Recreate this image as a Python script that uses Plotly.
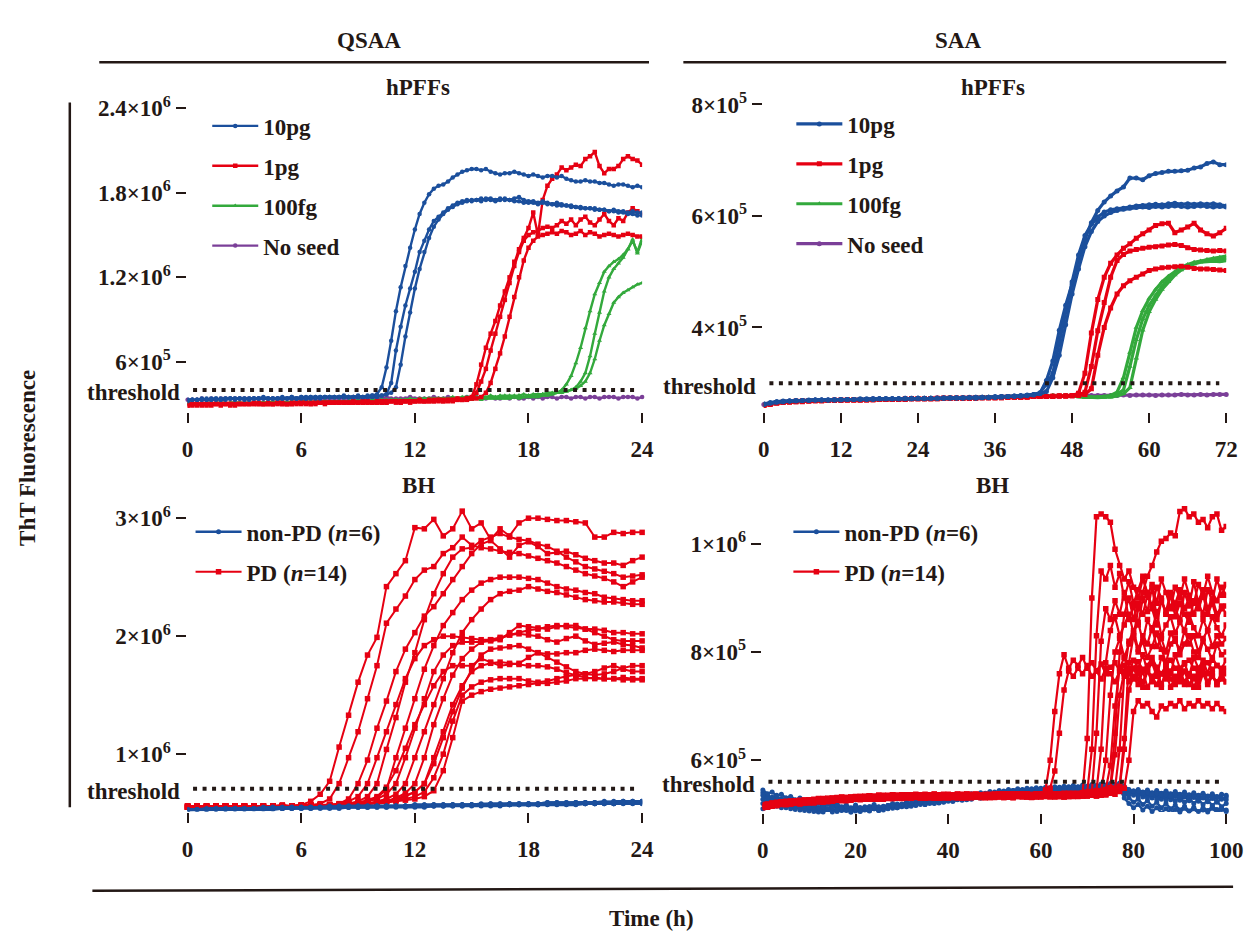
import numpy as np
import plotly.graph_objects as go

W, H = 1255, 933
INK = "#231815"
BLUE = "#1B4F9C"
RED = "#E60012"
GREEN = "#33A93C"
PURPLE = "#7B3F98"
FONT = "Liberation Serif"

# ---------------- DATA ----------------
# Panel A: QSAA, hPFFs seeds, 0-24 h every 0.25 h, values in units of 1e4
QH_STEP = 0.25
q_hpff_10pg = [
    [33,33,33,34,33,34,34,33,34,34,34,34,33,34,34,34,34,34,34,34,34,34,35,34,34,34,35,34,35,35,35,35,35,35,35,35,35,35,35,36,37,
     42,56,75,96,113,128,141,154,165,173,179,183,185,186,188,191,193,195,196,197,197,196,197,195,194,193,194,194,195,194,
     193,192,193,192,191,192,192,191,192,190,189,188,188,189,188,188,187,187,186,185,186,186,185,184,185,184],
    [32,33,33,33,33,33,34,33,33,34,34,34,34,33,34,34,34,34,34,34,34,34,34,34,35,34,34,35,34,35,35,35,35,35,35,35,35,35,35,35,35,36,37,
     45,68,85,100,112,124,138,146,154,160,163,166,169,171,173,174,175,174,175,176,175,175,174,175,176,175,174,174,173,173,
     173,172,173,172,172,171,171,171,170,170,169,169,169,168,168,168,167,168,167,167,166,167,166,166],
    [33,33,33,33,34,33,33,34,34,34,33,34,34,34,34,34,35,34,34,34,35,34,35,34,35,35,35,35,35,35,35,35,35,36,35,35,36,35,36,36,36,36,37,38,
     42,58,78,95,112,126,138,148,156,161,165,168,170,172,173,174,175,175,174,176,176,175,176,175,175,176,177,175,174,174,
     173,174,173,172,173,172,171,171,170,170,169,169,169,168,168,167,167,166,166,165,165,164,164],
]
q_hpff_1pg = [
    [29,30,29,30,30,29,30,30,30,29,30,30,30,30,30,30,30,31,30,30,30,30,31,30,30,31,30,31,31,30,31,31,31,31,31,31,31,31,31,31,
     31,31,31,32,31,31,32,31,32,32,32,32,32,32,32,32,32,33,33,34,
     35,44,58,70,80,89,100,110,120,131,140,148,155,166,150,175,185,190,193,198,196,198,200,199,204,206,209,199,194,197,
     197,199,204,206,204,203,200],
    [30,29,30,30,29,30,30,30,30,30,29,30,30,30,30,31,30,30,30,31,30,30,30,31,31,30,31,30,31,31,31,31,31,31,31,31,31,32,31,31,
     31,32,31,32,32,31,32,32,32,32,32,32,32,33,32,33,33,33,33,33,34,
     38,46,55,68,80,92,104,116,128,138,146,150,152,153,155,156,155,157,160,158,161,157,161,163,159,157,161,165,160,157,
     162,160,166,169,167,165],
    [29,30,30,29,30,30,30,29,30,30,30,30,30,30,31,30,30,30,30,31,31,30,30,31,31,31,30,31,31,31,31,31,31,31,31,32,31,31,32,31,
     32,31,32,32,32,32,32,32,32,33,32,33,33,33,33,33,33,34,33,34,34,34,35,
     38,45,55,66,78,92,106,120,132,141,146,149,150,151,152,151,153,152,150,151,153,150,152,151,149,150,151,150,149,150,
     151,150,149,149],
]
q_hpff_100fg = [
    [30,30,31,30,30,31,30,31,30,31,31,30,31,31,30,31,31,31,31,30,31,31,31,31,31,32,31,31,31,32,31,32,31,32,32,31,32,32,32,32,
     32,32,32,32,33,32,32,33,32,33,33,32,33,33,33,33,33,33,34,33,33,34,33,34,34,34,34,34,34,35,34,35,35,35,35,36,36,37,38,40,
     44,50,59,70,84,96,108,116,124,128,131,133,136,140,147,137,146],
    [31,30,31,30,31,31,30,31,31,30,31,31,31,30,31,31,31,31,31,31,32,31,31,31,32,31,32,31,32,32,32,32,32,31,32,32,32,32,32,33,
     32,33,32,33,33,33,33,33,33,33,33,34,33,34,34,33,34,34,34,34,34,34,35,34,35,35,35,35,35,35,36,35,36,36,36,37,37,37,38,38,
     39,40,42,
     46,52,64,80,95,110,120,126,130,134,140,146,138,148],
    [30,31,30,31,30,30,31,31,30,31,31,31,30,31,31,31,31,31,32,31,31,31,32,31,32,32,31,32,32,32,32,32,32,32,32,33,32,33,32,33,
     33,33,33,33,33,33,33,34,33,34,34,34,34,34,34,34,35,34,35,35,35,35,35,35,36,35,36,36,36,36,36,37,36,37,37,37,38,38,38,39,
     39,40,41,43,
     46,52,62,75,86,94,102,106,109,111,113,115,116],
]
q_hpff_noseed = [
    [33,33,33,34,33,34,33,34,34,34,34,34,34,34,34,34,34,34,34,34,34,34,34,34,34,34,34,34,34,34,34,34,34,34,34,35,34,34,34,34,
     34,34,35,34,34,34,34,35,34,34,34,34,35,34,34,35,34,34,34,35,34,35,34,34,35,34,34,35,34,35,34,34,35,34,35,34,35,35,34,35,
     35,34,35,35,34,35,35,34,35,35,35,34,35,35,35,34,35],
]

# Panel B: SAA, hPFFs seeds, 0-72 h every 1 h, values in units of 1e3
SH_STEP = 1.0
s_hpff_10pg = [
    [262,265,267,268,268,269,269,270,270,270,270,271,271,271,271,271,272,271,272,272,272,272,272,272,273,272,273,273,273,273,
     273,273,274,273,274,274,275,275,276,276,277,278,280,
     282,305,340,395,440,478,522,558,588,610,625,636,645,652,668,668,665,672,676,678,680,680,681,682,686,688,694,697,692,692],
    [263,265,267,267,268,269,269,269,270,270,270,270,271,271,271,272,271,272,272,272,272,272,273,272,273,273,273,273,273,274,
     274,274,274,274,275,275,275,276,276,277,278,279,280,283,
     298,318,372,430,482,530,565,585,598,607,611,613,614,616,618,619,620,621,620,622,623,621,622,621,622,621,622,620,618],
    [262,264,266,267,268,268,269,269,270,270,270,270,270,271,271,271,271,272,272,272,272,272,272,273,273,273,273,273,274,274,
     274,274,274,275,275,275,276,276,276,277,277,278,279,281,285,
     310,350,405,460,505,545,572,590,600,606,610,612,614,615,616,615,617,616,617,618,617,616,617,618,617,616,617,616],
]
s_hpff_1pg = [
    [260,263,265,266,267,267,268,268,269,269,269,269,270,270,270,270,270,271,271,271,271,271,271,272,272,272,272,272,273,273,
     273,273,273,273,274,274,274,274,275,275,275,275,276,276,276,276,277,277,278,282,
     318,390,450,490,515,530,542,550,560,568,575,583,586,587,570,575,580,587,575,568,564,570,578],
    [261,263,265,266,267,268,268,268,269,269,269,270,270,270,270,270,271,271,271,271,271,271,272,272,272,272,272,273,273,273,
     273,273,273,274,274,274,274,275,275,275,275,276,276,276,276,277,277,277,278,279,284,
     330,394,445,490,520,531,537,540,542,544,545,546,548,549,547,543,540,539,538,537,538,537],
    [260,262,264,266,266,267,267,268,268,268,269,269,269,270,270,270,270,270,271,271,271,271,271,272,272,272,272,272,273,273,
     273,273,273,273,274,274,274,274,275,275,275,275,276,276,276,276,277,277,277,278,280,290,
     350,400,435,460,475,484,490,496,502,505,507,508,509,510,508,506,505,505,504,503,502],
]
s_hpff_100fg = [
    [261,263,265,266,267,268,268,268,269,269,269,270,270,270,270,270,271,271,271,271,271,272,272,272,272,272,273,273,273,273,
     273,274,274,274,274,275,275,275,275,276,276,276,277,277,277,278,278,278,277,276,275,275,275,276,278,284,
     310,355,400,430,452,468,482,492,500,508,513,517,519,520,521,522,524],
    [262,264,265,266,267,267,268,268,269,269,269,270,270,270,270,271,271,271,271,271,272,272,272,272,272,273,273,273,273,273,
     274,274,274,274,275,275,275,275,276,276,276,277,277,277,278,278,278,278,277,276,275,275,275,275,277,280,288,
     330,378,415,440,458,474,487,497,505,510,514,517,518,519,518,520],
    [261,263,265,266,266,267,268,268,268,269,269,269,270,270,270,270,271,271,271,271,271,272,272,272,272,272,273,273,273,273,
     273,274,274,274,274,275,275,275,276,276,276,276,277,277,277,278,278,278,277,276,275,274,274,275,275,277,281,292,
     345,395,428,450,468,482,494,503,510,515,519,522,524,526,528],
]
s_hpff_noseed = [
    [262,264,266,267,268,268,269,269,270,270,270,270,271,271,271,271,271,272,272,272,272,272,273,273,273,273,273,274,274,274,
     274,274,275,275,275,275,275,276,276,276,276,276,277,277,277,277,277,278,278,278,278,278,278,278,278,278,279,278,279,279,
     279,278,279,279,279,280,279,279,280,279,280,280,280],
]

# Panel C: QSAA, brain homogenates, 0-24 h every 0.5 h, values in units of 1e4
QB_STEP = 0.5
q_bh_nonpd = [
    [52,53,53,53,53,54,53,54,54,54,54,54,55,54,55,55,55,55,55,55,56,55,56,56,56,56,56,56,57,56,57,57,57,57,57,57,58,57,58,58,58,58,58,58,59,58,59,59,59],
    [53,53,54,54,54,54,54,54,55,55,55,55,55,55,55,56,55,56,56,56,56,56,56,56,57,57,57,57,57,57,57,58,58,58,58,58,58,58,59,59,59,59,59,59,60,59,60,60,60],
    [52,52,52,53,53,53,53,53,53,53,54,54,54,54,54,54,54,55,55,55,55,55,55,55,55,55,56,56,56,56,56,56,56,56,57,57,57,57,57,57,57,57,58,58,58,58,58,58,58],
    [53,53,53,53,54,54,54,54,54,54,54,55,55,55,55,55,55,55,56,56,56,56,56,56,56,56,57,57,57,57,57,57,57,57,58,58,58,58,58,58,58,59,59,59,59,59,59,59,60],
    [52,53,53,53,53,53,54,54,54,54,54,54,54,55,55,55,55,55,55,55,55,56,56,56,56,56,56,56,56,57,57,57,57,57,57,57,57,57,58,58,58,58,58,58,58,58,59,59,59],
    [53,53,53,54,54,54,54,54,54,55,55,55,55,55,55,55,56,56,56,56,56,56,56,56,57,57,57,57,57,57,57,57,58,58,58,58,58,58,59,59,59,59,59,59,59,60,60,60,60],
]
q_bh_pd = [
    [55,56,55,56,56,55,56,56,55,56,56,56,57,60,66,77,106,133,161,184,199,242,253,264,292,291,299,285,291,306,291,296,282,291,285,296,300,300,299,298,298,297,296,284,284,288,287,288,288],
    [55,55,56,55,56,56,56,55,56,56,57,56,57,57,58,62,75,97,119,147,175,211,223,234,248,256,259,270,275,284,277,275,274,272,271,270,268,266,264,262,259,256,253,251,249,246,242,246,250],
    [55,56,55,55,56,56,55,56,56,56,55,56,56,57,56,57,58,62,75,95,122,145,170,189,203,217,225,236,248,259,270,278,281,274,267,277,280,276,270,271,272,269,266,264,262,262,260,264,267],
    [55,55,56,55,56,55,56,56,55,56,56,55,56,56,56,57,57,58,60,64,75,104,131,161,186,214,236,253,267,274,275,281,284,287,284,282,281,278,276,272,267,263,259,257,255,253,250,251,252],
    [56,55,55,56,56,55,56,55,56,56,56,55,56,57,56,57,57,58,58,60,63,70,97,122,147,172,192,209,220,231,239,245,248,250,250,250,249,248,245,242,240,239,237,236,233,232,231,230,230],
    [55,56,55,56,55,56,56,55,56,56,55,56,56,56,57,56,57,57,58,58,60,62,66,75,97,119,142,164,186,203,214,223,231,236,238,239,242,240,238,237,235,233,231,230,229,229,228,227,227],
    [56,55,56,55,56,56,55,56,56,55,56,56,57,56,57,57,58,60,64,75,97,119,142,164,181,192,197,200,200,199,198,197,197,198,201,203,205,206,208,209,208,207,206,206,205,203,203,202,202],
    [55,56,55,56,56,55,56,56,55,56,56,56,55,56,57,56,57,58,58,60,62,66,75,97,122,147,170,184,192,195,195,195,196,197,203,209,208,207,206,208,209,209,206,203,200,197,196,196,196],
    [56,55,55,56,56,55,56,55,56,56,55,56,56,56,57,56,56,57,58,58,59,60,63,67,75,97,125,147,167,181,189,195,197,199,201,202,201,200,197,195,198,200,196,193,194,195,193,192,190],
    [55,56,56,55,56,55,56,56,55,56,56,55,56,56,57,56,57,57,57,58,59,60,61,64,68,75,92,114,136,156,172,184,189,190,191,192,189,186,185,185,186,186,188,189,188,187,188,188,188],
    [55,55,56,55,56,56,55,56,56,55,56,56,56,55,57,56,57,58,59,61,64,72,86,105,125,142,158,170,175,175,175,181,178,175,176,177,182,186,182,178,174,170,168,167,168,170,173,175,175],
    [56,55,56,55,55,56,56,55,56,56,55,56,56,57,56,56,57,57,58,58,59,60,62,65,68,75,97,119,142,158,170,175,177,178,177,176,175,175,174,172,169,167,168,170,173,175,172,170,170],
    [55,56,55,56,56,55,56,56,55,56,56,56,55,56,57,56,57,57,58,58,59,60,61,62,64,68,80,100,128,150,157,161,163,164,164,164,162,161,162,164,166,167,165,164,164,164,163,163,163],
    [56,55,56,55,56,56,55,56,55,56,56,55,56,56,56,57,56,57,57,58,58,59,60,61,62,64,69,86,114,145,150,153,155,156,157,158,159,160,160,161,162,164,164,165,164,164,165,164,164],
]

# Panel D: SAA, brain homogenates, 0-100 h every 1 h, values in units of 1e3
SB_STEP = 1.0
s_bh_nonpd = [
    [540,532,528,535,524,530,521,526,518,523,515,520,512,518,510,516,513,508,515,511,517,512,509,514,518,513,510,516,520,515,
     518,522,517,521,525,520,524,528,523,527,530,526,533,529,535,531,537,533,539,535,541,537,543,539,544,540,546,542,547,543,
     548,544,549,545,550,546,551,547,550,546,552,548,551,547,553,549,552,548,545,540,543,538,541,536,540,535,539,534,538,533,
     537,532,536,531,535,530,534,529,533,528,532],
    [528,535,522,530,518,525,515,521,512,519,508,515,505,512,509,504,511,507,513,509,506,512,508,514,510,507,513,516,511,518,
     514,520,516,522,518,524,520,526,522,528,524,530,527,533,529,535,531,537,533,538,535,540,536,541,538,543,539,544,541,546,
     542,547,543,548,545,549,546,550,547,551,548,552,549,553,550,554,551,555,540,530,522,528,518,525,515,522,512,520,510,517,
     508,515,506,513,505,512,507,514,509,511,508],
    [545,538,541,534,537,530,533,527,530,524,527,521,524,518,521,516,519,514,517,512,515,511,514,510,513,509,512,516,514,519,
     517,521,519,523,521,526,524,528,526,531,529,533,531,536,534,538,536,540,538,542,540,544,542,546,544,547,545,548,546,549,
     547,550,548,551,549,552,550,553,551,554,552,555,553,556,554,557,555,558,552,546,541,546,540,545,539,544,538,543,537,542,
     536,541,535,540,534,539,533,538,532,537,535],
    [520,526,515,522,512,519,510,516,508,514,506,512,504,510,503,509,505,502,508,504,510,506,503,509,512,507,514,510,516,512,
     518,514,520,516,522,518,524,520,526,522,528,524,530,526,532,528,534,530,536,532,538,534,540,536,541,537,542,538,543,539,
     544,540,545,541,546,542,547,543,548,544,549,545,550,546,551,547,552,548,530,520,512,518,508,515,505,512,503,510,502,509,
     504,511,503,510,502,508,504,511,503,509,505],
    [535,529,532,526,529,523,527,520,525,518,523,516,521,514,519,512,517,510,515,508,513,507,511,506,510,514,508,513,517,512,
     516,520,515,519,523,518,522,526,521,525,529,524,528,532,527,531,535,530,534,538,533,537,540,535,539,542,537,541,544,539,
     543,546,541,545,548,543,547,549,544,548,550,545,549,551,546,550,553,548,538,545,535,542,532,540,530,538,528,536,527,535,
     526,534,525,533,524,532,523,531,522,530,527],
    [510,518,524,515,521,512,518,509,516,507,514,505,512,504,510,503,508,502,507,504,509,505,511,507,513,509,515,511,517,513,
     519,515,521,517,523,519,525,521,527,523,529,525,531,527,533,529,535,531,537,533,539,535,541,537,543,539,544,540,545,541,
     546,542,547,543,548,544,549,545,550,546,551,547,552,548,553,549,554,556,545,537,543,533,540,530,538,528,536,526,534,524,
     532,522,530,520,528,518,526,516,524,514,520],
]
s_bh_pd = [
    [512,516,519,521,518,523,520,524,522,525,523,527,525,528,526,524,529,527,530,528,531,529,533,530,528,532,534,531,533,530,
     534,532,530,535,533,531,534,536,532,534,531,535,533,530,534,536,532,535,533,531,535,533,536,532,534,537,533,535,532,536,
     538,545,
     600,690,760,795,770,785,775,790,770,780,765,778,760,772,780,765,775,760,770,782,768,775,790,772,760,775,785,770,765,778,
     785,770,762,775,780,768,775,765,770],
    [516,514,520,518,522,520,523,521,525,522,526,524,527,525,529,527,526,530,528,531,529,532,530,534,531,529,533,531,535,532,
     530,533,535,531,534,532,536,533,530,535,533,536,531,534,532,535,537,533,531,534,536,532,535,533,531,536,534,537,532,535,
     533,537,548,
     580,650,730,765,755,770,760,775,755,765,750,770,760,745,765,755,770,750,760,745,765,755,740,760,750,765,745,755,740,760,
     750,745,760,740,755,745,760,745],
    [514,517,515,520,522,519,524,521,523,526,524,522,527,525,528,526,530,527,529,532,530,528,533,531,529,534,532,530,535,533,
     531,534,536,532,530,535,533,537,534,531,536,533,530,535,537,532,534,536,533,531,535,537,532,534,536,533,538,534,531,536,
     534,537,533,535,538,534,536,533,537,540,
     640,900,1050,1055,1050,1040,990,960,935,950,920,900,935,910,885,920,900,870,905,890,915,880,900,870,895,915,880,900,870,885,870],
    [517,515,519,522,520,518,523,525,522,524,527,525,523,528,526,530,528,526,531,529,532,530,528,533,531,534,532,529,534,532,
     535,533,531,536,534,532,530,535,533,537,534,531,536,533,535,532,537,534,532,536,533,535,538,534,531,536,534,537,533,535,
     538,534,536,532,537,535,533,538,536,534,541,
     620,830,950,935,960,920,945,900,930,890,915,940,905,925,890,935,910,880,920,900,935,905,890,925,905,940,910,895,920,905],
    [513,518,516,521,519,522,520,525,523,521,526,524,528,525,527,529,526,531,528,530,532,529,531,534,530,532,535,531,533,530,
     535,532,534,537,533,530,535,533,531,536,534,532,537,535,530,534,536,533,531,535,537,534,532,536,533,538,535,532,534,537,
     533,536,534,538,535,533,537,534,536,539,535,542,
     650,820,880,860,895,870,910,860,885,850,900,875,920,865,895,870,905,880,860,910,885,930,890,870,915,895,935,905,925],
    [515,517,521,518,523,521,519,524,522,526,523,527,525,529,526,524,528,531,529,527,531,533,530,528,532,535,531,533,536,532,
     530,534,532,536,533,531,535,537,533,530,534,536,532,535,533,537,534,531,536,533,535,538,534,532,536,534,537,533,535,538,
     534,536,533,537,535,532,536,539,535,537,534,538,544,
     620,780,840,865,830,850,870,835,855,820,860,840,875,830,850,865,835,855,840,870,845,830,860,840,865,845,830,850],
    [518,516,520,517,522,524,521,523,526,524,522,527,529,526,528,525,530,532,529,531,528,533,530,532,529,534,531,535,532,530,
     533,536,532,534,531,535,533,530,536,534,532,535,537,533,531,536,534,532,537,535,533,536,534,538,533,535,537,534,532,536,
     538,535,533,537,534,536,539,535,533,537,535,538,536,543,
     600,720,800,825,790,815,830,800,820,790,810,835,805,780,815,825,795,815,830,800,790,820,805,785,815,795,800],
    [514,519,517,520,523,520,522,525,523,521,525,528,526,524,529,527,531,528,526,530,533,531,529,534,530,532,528,533,535,531,
     534,530,533,535,532,536,534,531,535,533,537,532,534,530,535,533,536,534,531,537,535,533,538,534,532,536,534,537,535,532,
     536,534,538,535,533,537,535,538,534,536,539,535,537,540,546,
     590,700,770,790,760,785,770,795,765,780,755,790,775,760,795,770,780,755,790,770,785,760,790,775,770,785],
    [516,513,518,521,519,523,520,522,525,522,524,526,523,527,529,526,528,530,527,531,529,532,530,533,529,531,534,532,530,535,
     532,534,531,536,533,530,534,537,533,535,531,536,534,532,537,533,535,531,536,534,532,537,535,533,536,538,534,532,536,534,
     537,535,533,538,536,534,537,535,539,536,534,538,536,539,541,547,
     610,720,765,745,770,750,735,765,745,760,735,770,750,740,765,745,760,735,755,770,745,760,740,755,760],
    [513,516,520,517,521,519,524,522,520,525,523,526,524,528,525,529,527,525,530,528,531,527,533,530,532,528,534,531,529,533,
     535,531,534,532,530,536,533,531,535,533,530,535,537,532,534,531,536,533,535,532,537,534,531,535,537,533,536,534,532,537,
     534,536,533,538,535,532,537,534,536,538,535,537,534,539,542,549,
     650,800,870,900,860,890,870,905,880,850,895,875,910,865,890,870,855,895,880,905,870,890,860,880,885],
    [517,514,519,516,521,523,520,522,519,524,526,523,525,528,526,524,529,527,530,526,532,529,531,533,530,528,533,531,535,532,
     529,534,532,536,533,531,535,532,534,536,533,531,535,533,537,534,532,536,533,535,531,536,534,537,533,535,532,537,535,533,
     536,538,534,536,533,537,535,538,536,534,537,535,539,536,538,541,548,
     620,760,820,840,805,830,815,845,810,825,800,835,820,805,840,815,830,800,825,840,810,830,815,825],
    [515,518,516,520,522,519,521,524,522,526,524,521,527,525,523,528,526,530,527,529,531,528,530,533,531,529,534,530,532,535,
     531,533,530,535,532,536,534,531,535,533,536,532,534,537,533,531,535,534,536,532,535,533,537,534,531,536,534,538,535,533,
     537,534,536,533,538,535,537,534,536,539,535,537,534,538,536,540,537,542,548,
     600,690,710,700,705,690,680,700,695,705,700,710,695,705,700,710,700,705,695,705,695,690],
    [514,517,519,516,521,518,523,521,525,523,521,526,524,527,525,529,526,528,531,528,530,532,529,531,534,530,533,531,529,534,
     532,535,531,533,536,532,534,530,535,533,531,536,534,532,537,533,535,532,536,534,537,533,531,535,538,534,536,533,537,535,
     532,536,538,534,537,535,533,538,536,534,538,535,537,540,536,539,543,552,
     640,780,830,880,910,940,960,985,1005,1010,1020,1015,1060,1065,1050,1055,1040,1045,1030,1050,1055,1025,1032],
    [516,514,518,521,519,522,524,521,523,526,524,527,525,522,528,526,530,528,525,531,529,531,528,533,531,535,530,532,534,531,
     536,533,531,535,533,537,532,534,530,536,534,532,536,533,535,531,537,534,532,536,533,538,535,532,536,534,537,535,533,538,
     535,533,537,534,536,539,535,537,534,538,536,539,537,535,539,541,544,550,
     620,730,755,740,765,735,750,770,740,760,735,755,745,765,740,755,735,760,745,755,740,750,745],
]

THRESHOLDS = [4.0e5, 3.0e5, 7.07e5, 5.6e5]

X_TICKS = [[0, 6, 12, 18, 24], [0, 12, 24, 36, 48, 60, 72], [0, 6, 12, 18, 24], [0, 20, 40, 60, 80, 100]]
Y_TICKS = [[6e5, 1.2e6, 1.8e6, 2.4e6], [4e5, 6e5, 8e5], [1e6, 2e6, 3e6], [6e5, 8e5, 1e6]]
Y_LABELS = [["6×10<sup>5</sup>", "1.2×10<sup>6</sup>", "1.8×10<sup>6</sup>", "2.4×10<sup>6</sup>"],
            ["4×10<sup>5</sup>", "6×10<sup>5</sup>", "8×10<sup>5</sup>"],
            ["1×10<sup>6</sup>", "2×10<sup>6</sup>", "3×10<sup>6</sup>"],
            ["6×10<sup>5</sup>", "8×10<sup>5</sup>", "1×10<sup>6</sup>"]]
X_RANGES = [[0, 24], [0, 72], [0, 24], [0, 100]]
Y_RANGES = [[2.5e5, 2.4e6], [2.5e5, 8.0e5], [5.17e5, 3.108e6], [5.04e5, 1.071e6]]

# ---------------- FIGURE ----------------
fig = go.Figure()


def axn(i):
    return ("x", "y") if i == 1 else (f"x{i}", f"y{i}")


def add_group(panel, series, step, scale, name, color, symbol, msize, lw, z):
    xa, ya = axn(panel)
    leg = "legend" if panel == 1 else f"legend{panel}"
    for k, s in enumerate(series):
        v = np.array(s, dtype=float) * scale
        t = np.arange(len(v)) * step
        fig.add_trace(go.Scatter(
            x=t, y=v, mode="lines+markers", name=name,
            line=dict(color=color, width=lw),
            marker=dict(symbol=symbol, size=msize, color=color, line=dict(width=0)),
            legendgroup=f"{panel}-{name}", showlegend=(k == 0), legend=leg,
            xaxis=xa, yaxis=ya, zorder=z, cliponaxis=False, hoverinfo="skip"))


add_group(1, q_hpff_10pg, QH_STEP, 1e4, "10pg", BLUE, "circle", 4.5, 2.4, 4)
add_group(1, q_hpff_1pg, QH_STEP, 1e4, "1pg", RED, "square", 4.5, 2.4, 3)
add_group(1, q_hpff_100fg, QH_STEP, 1e4, "100fg", GREEN, "triangle-up", 4.5, 2.4, 2)
add_group(1, q_hpff_noseed, QH_STEP, 1e4, "No seed", PURPLE, "circle", 4.5, 2.4, 1)

add_group(2, s_hpff_10pg, SH_STEP, 1e3, "10pg", BLUE, "circle", 5, 3.2, 4)
add_group(2, s_hpff_1pg, SH_STEP, 1e3, "1pg", RED, "square", 5, 3.2, 3)
add_group(2, s_hpff_100fg, SH_STEP, 1e3, "100fg", GREEN, "triangle-up", 5, 3.2, 2)
add_group(2, s_hpff_noseed, SH_STEP, 1e3, "No seed", PURPLE, "circle", 5, 3.2, 1)

add_group(3, q_bh_nonpd, QB_STEP, 1e4, "non-PD (<i>n</i>=6)", BLUE, "circle", 5, 2.6, 2)
add_group(3, q_bh_pd, QB_STEP, 1e4, "PD (<i>n</i>=14)", RED, "square", 5.5, 2.0, 1)

add_group(4, s_bh_nonpd, SB_STEP, 1e3, "non-PD (<i>n</i>=6)", BLUE, "circle", 5, 2.4, 1)
add_group(4, s_bh_pd, SB_STEP, 1e3, "PD (<i>n</i>=14)", RED, "square", 5.5, 2.2, 2)

FS = 23
TFONT = dict(family=FONT, size=FS, color=INK, weight="bold")
common = dict(showline=True, linecolor=INK, linewidth=2.2, mirror=True, ticks="outside",
              ticklen=10, tickwidth=2.2, tickcolor=INK, showgrid=False, zeroline=False,
              tickfont=TFONT, fixedrange=True)

# panel boxes in pixels: (left, right, top, bottom)
BOX = [(185, 648, 94, 402), (772, 1243, 90, 402), (185, 648, 498, 809), (771, 1243, 498, 810)]

layout_axes = {}
for i, (l, r, t, b) in enumerate(BOX, start=1):
    xk = "xaxis" if i == 1 else f"xaxis{i}"
    yk = "yaxis" if i == 1 else f"yaxis{i}"
    xa, ya = axn(i)
    layout_axes[xk] = dict(domain=[l / W, r / W], range=X_RANGES[i - 1], anchor=ya, ticklabelstandoff=6,
                           tickvals=X_TICKS[i - 1], ticktext=[str(v) for v in X_TICKS[i - 1]], **common)
    layout_axes[yk] = dict(domain=[1 - b / H, 1 - t / H], range=Y_RANGES[i - 1], anchor=xa,
                           tickvals=Y_TICKS[i - 1], ticktext=Y_LABELS[i - 1], **common)


def legend_at(px, py):
    return dict(x=px / W, y=1 - py / H, xanchor="left", yanchor="top", bgcolor="rgba(0,0,0,0)",
                font=dict(family=FONT, size=FS, color=INK, weight="bold"),
                itemwidth=46, tracegroupgap=7, traceorder="grouped", borderwidth=0)


shapes = []
annotations = []


def pa(px, py):
    return px / W, 1 - py / H


def text(px, py, s, angle=0):
    x, y = pa(px, py)
    annotations.append(dict(x=x, y=y, xref="paper", yref="paper", text=s, showarrow=False,
                            textangle=angle, xanchor="center", yanchor="middle",
                            font=dict(family=FONT, size=FS, color=INK, weight="bold")))


def line(p0, p1, w=2.5):
    x0, y0 = pa(*p0)
    x1, y1 = pa(*p1)
    shapes.append(dict(type="line", xref="paper", yref="paper", x0=x0, y0=y0, x1=x1, y1=y1,
                       line=dict(color=INK, width=w)))


text(370, 25, "QSAA")
text(970, 25, "SAA")
line((95, 47), (655, 47))
line((690, 47), (1243, 47))
text(420, 73, "hPFFs")
text(1005, 73, "hPFFs")
text(420, 478, "BH")
text(1005, 478, "BH")
line((65, 88), (65, 805))
text(22, 450, "ThT Fluorescence", angle=-90)
line((88, 890), (1250, 886))
text(658, 918, "Time (h)")

for i, thr in enumerate(THRESHOLDS, start=1):
    xa, ya = axn(i)
    shapes.append(dict(type="line", xref=f"{xa} domain", yref=ya, x0=0.012, x1=0.985, y0=thr, y1=thr,
                       line=dict(color=INK, width=4, dash="4px,5.5px")))
    annotations.append(dict(x=0, y=thr, xref=f"{xa} domain", yref=ya, text="threshold", showarrow=False,
                            xanchor="right", yanchor="middle", xshift=-6, yshift=-3,
                            font=dict(family=FONT, size=FS, color=INK, weight="bold")))

fig.update_layout(
    width=W, height=H, margin=dict(l=0, r=0, t=0, b=0),
    paper_bgcolor="white", plot_bgcolor="white",
    legend=legend_at(205, 90), legend2=legend_at(800, 88),
    legend3=legend_at(188, 503), legend4=legend_at(797, 503),
    shapes=shapes, annotations=annotations, hovermode=False,
    **layout_axes)

fig.write_html("out.html", config={"displayModeBar": False},
               post_script="document.body.style.margin='0px';document.body.style.overflow='hidden';")
